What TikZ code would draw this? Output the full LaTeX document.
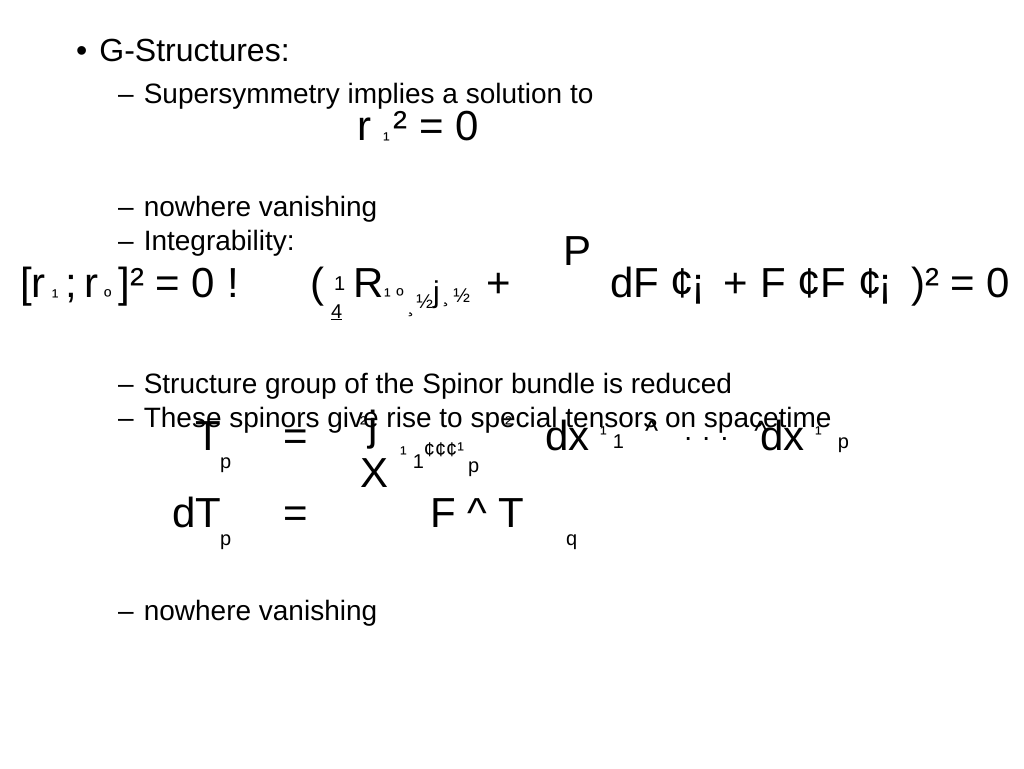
\documentclass[tikz,border=0pt]{standalone}
\usepackage{fontspec}
\setmainfont{Liberation Sans}
\tikzset{
  txt/.style={anchor=base west,inner sep=0pt,font=\fontsize{28}{32}\selectfont},
  head/.style={txt,font=\fontsize{32}{36}\selectfont},
  big/.style={txt,font=\fontsize{42}{46}\selectfont},
  sml/.style={txt,font=\fontsize{20}{24}\selectfont}
}
\begin{document}
\begin{tikzpicture}[x=1pt,y=-1pt]
\useasboundingbox[fill=white] (0,0) rectangle (1024,768);
% bullet list
\node[head] (b1) at (76,62) {•\hspace{12pt}G-Structures:};
\node[txt] (s1) at (118,103) {–\hspace{10pt}Supersymmetry implies a solution to};
\node[big] (eq1) at (357,140) {r\hspace{12pt}\raisebox{-6pt}{\fontsize{20}{24}\selectfont ¹}\hspace{4pt}² = 0};
\node[txt] (s2) at (118,216) {–\hspace{10pt}nowhere vanishing};
\node[txt] (s3) at (118,250) {–\hspace{10pt}Integrability:};
% integrability equation
\node[big] (sumP) at (563,265) {P};
\node[big] (lhs) at (20,297) {[r\hspace{6pt}\raisebox{-6pt}{\fontsize{20}{24}\selectfont ¹}\,;\,r\hspace{6pt}\raisebox{-6pt}{\fontsize{20}{24}\selectfont º}\,]² = 0 !};
\node[big] (par) at (310,297) {(};
\node[sml] (qn) at (334,290) {1};
\node[sml] (qd) at (331,318) {\underline{4}};
\node[big] (R) at (353,297) {R};
\node[sml] (Ri) at (384,302) {¹ º\hspace{4pt}\raisebox{-10pt}{¸}\hspace{2pt}\raisebox{-6pt}{½}\fontsize{30}{30}\selectfont j\hspace{3pt}\fontsize{20}{24}\selectfont ¸\hspace{4pt}½};
\node[big] (plus) at (486,297) {+};
\node[big] (rhs) at (610,297) {dF ¢\hspace{-3pt}¡ \,+ F ¢F ¢\hspace{-3pt}¡ \,)² = 0};
\node[txt] (s4) at (118,393) {–\hspace{10pt}Structure group of the Spinor bundle is reduced};
\node[txt] (s5) at (118,427) {–\hspace{10pt}These spinors give rise to special tensors on spacetime};
% tensor equations
\node[big] (T) at (195,450) {T};
\node[sml] (Tp) at (220,468) {p};
\node[big] (eqa) at (283,450) {=};
\node[sml] (sq) at (360,430) {²};
\node[big] (jj) at (368,440) {j};
\node[big] (X) at (360,487) {X};
\node[sml] (Xi) at (400,460) {¹\hspace{6pt}\raisebox{-8pt}{1}\raisebox{4pt}{¢¢¢¹}\hspace{4pt}\raisebox{-12pt}{p}};
\node[sml] (sq2) at (505,430) {²};
\node[big] (dx1) at (545,450) {dx};
\node[sml] (dx1i) at (600,440) {¹\hspace{6pt}\raisebox{-8pt}{1}};
\node[txt] (dots) at (645,440) {\textasciicircum\hspace{26pt}. . .\hspace{26pt}\textasciicircum};
\node[big] (dx2) at (760,450) {dx};
\node[sml] (dx2i) at (815,440) {¹\hspace{16pt}\raisebox{-8pt}{p}};
\node[big] (dT) at (172,527) {dT};
\node[sml] (dTp) at (220,545) {p};
\node[big] (eqb) at (283,527) {=};
\node[big] (FT) at (430,527) {F \textasciicircum\ T};
\node[sml] (FTq) at (566,545) {q};
\node[txt] (s6) at (118,620) {–\hspace{10pt}nowhere vanishing};
\end{tikzpicture}
\end{document}
